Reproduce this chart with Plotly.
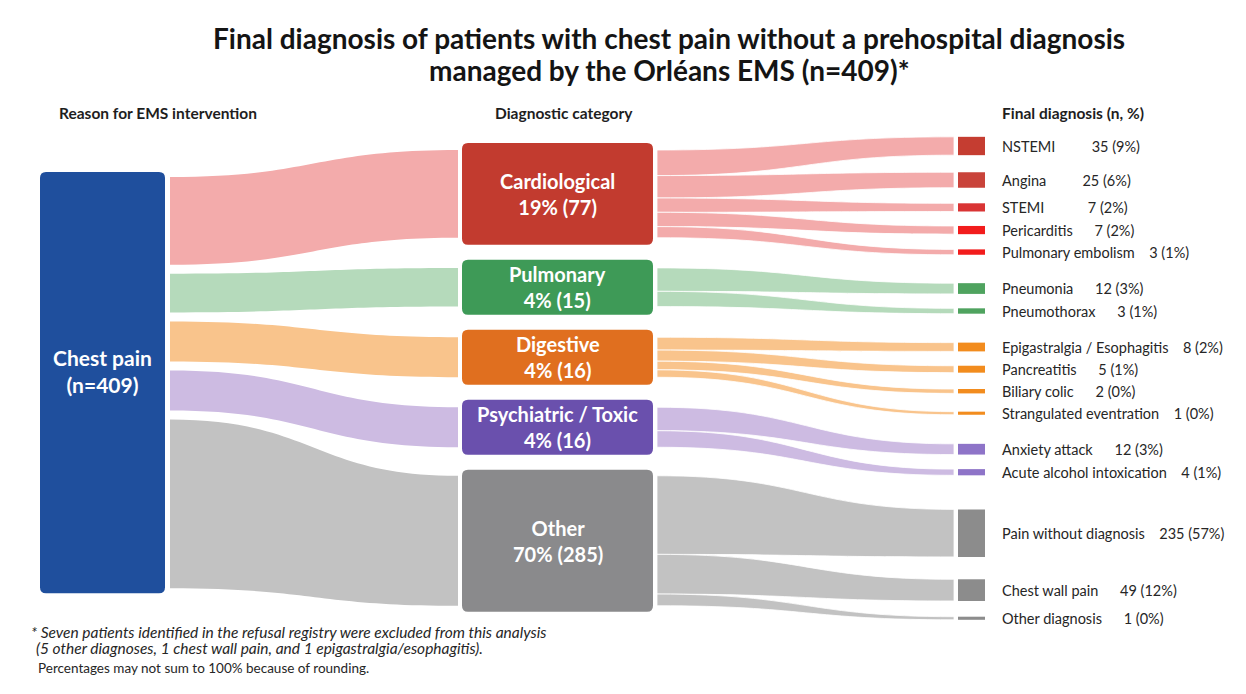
"""
Sankey-style flow of chest pain patients (Orléans EMS) drawn with Plotly shapes,
so that the boxes can carry their labels inside like the source figure.
"""
import numpy as np
import plotly.graph_objects as go

# ---- data ---------------------------------------------------------------
source_name = "Chest pain"

categories = ["Cardiological", "Pulmonary", "Digestive", "Psychiatric / Toxic", "Other"]

diagnoses = [
    "NSTEMI", "Angina", "STEMI", "Pericarditis", "Pulmonary embolism",
    "Pneumonia", "Pneumothorax",
    "Epigastralgia / Esophagitis", "Pancreatitis", "Biliary colic", "Strangulated eventration",
    "Anxiety attack", "Acute alcohol intoxication",
    "Pain without diagnosis", "Chest wall pain", "Other diagnosis",
]
diagnosis_category = [
    "Cardiological", "Cardiological", "Cardiological", "Cardiological", "Cardiological",
    "Pulmonary", "Pulmonary",
    "Digestive", "Digestive", "Digestive", "Digestive",
    "Psychiatric / Toxic", "Psychiatric / Toxic",
    "Other", "Other", "Other",
]
diagnosis_n = [35, 25, 7, 7, 3, 12, 3, 8, 5, 2, 1, 12, 4, 235, 49, 1]

# ---- styles -------------------------------------------------------------
source_color = "#1F4F9D"
cat_colors = ["#C23B2F", "#3E9A57", "#E06F1F", "#6A50AD", "#8A8A8C"]
band_colors = ["#F3ABAB", "#B5DABB", "#F9C48C", "#CDBBE2", "#C2C2C2"]
diag_colors = ["#C53D31", "#C9433A", "#D93434", "#F21C1C", "#F21C1C",
               "#4FA35F", "#4FA35F",
               "#F28C1E", "#F28C1E", "#F28C1E", "#F28C1E",
               "#8E74C8", "#8E74C8",
               "#8C8C8C", "#8C8C8C", "#8C8C8C"]
FONT = "Lato"
TEXT = "#262626"

W, H = 1246, 694
PAGE_MARGIN = 8  # body margin of the html page

# band widths use a square-root scale so the small groups stay readable
K_LEFT = 10.0
K_RIGHT = 3.1
SPLIT_FLOOR = 1.5

SRC_X0, SRC_X1, SRC_TOP = 40, 165, 172
L_BAND_X0, L_BAND_X1, L_GAP = 170, 458, 9
MID_X0, MID_X1, MID_TOP, MID_GAP = 462, 653, 143, 15
MID_MIN_H, MID_MAX_H, MID_PAD = 55, 142, 14
R_BAND_X0, R_BAND_X1 = 657, 954
FIN_X0, FIN_X1, FIN_FIRST = 958, 985, 146
FIN_MIN_STEP, FIN_SPREAD, FIN_PAD, FIN_GROUP_GAP = 22, 1.3, 12, 14
LABEL_X = 1000


def rounded_rect(x0, y0, x1, y1, r):
    return (f"M{x0 + r},{y0} L{x1 - r},{y0} Q{x1},{y0} {x1},{y0 + r} "
            f"L{x1},{y1 - r} Q{x1},{y1} {x1 - r},{y1} L{x0 + r},{y1} "
            f"Q{x0},{y1} {x0},{y1 - r} L{x0},{y0 + r} Q{x0},{y0} {x0 + r},{y0} Z")


def ribbon(x0, t0, b0, x1, t1, b1):
    xm = (x0 + x1) / 2
    return (f"M{x0},{t0} C{xm},{t0} {xm},{t1} {x1},{t1} "
            f"L{x1},{b1} C{xm},{b1} {xm},{b0} {x0},{b0} Z")


diag_n = np.array(diagnosis_n)
diag_cat = np.array(diagnosis_category)
cat_n = np.array([diag_n[diag_cat == c].sum() for c in categories])
total = cat_n.sum()

shapes = []
annotations = []

# ---- left bands + source node ---------------------------------------------
w_left = K_LEFT * np.sqrt(cat_n)
y = SRC_TOP + 5
left_spans = []
for w in w_left:
    left_spans.append((y, y + w))
    y += w + L_GAP
src_bottom = y - L_GAP + 5

shapes.append(dict(type="path", path=rounded_rect(SRC_X0, SRC_TOP, SRC_X1, src_bottom, 6),
                   fillcolor=source_color, line=dict(width=0), layer="above"))
annotations.append(dict(x=(SRC_X0 + SRC_X1) / 2, y=(SRC_TOP + src_bottom) / 2 - 12,
                        text=f"{source_name}<br>(n={total})", showarrow=False,
                        font=dict(family=FONT, size=21, color="white", weight="bold")))

# ---- middle boxes ------------------------------------------------------------
mid_h = np.clip(w_left + MID_PAD, MID_MIN_H, MID_MAX_H)
y = MID_TOP
mid_spans = []
for h in mid_h:
    mid_spans.append((y, y + h))
    y += h + MID_GAP

band_ends = []
for i, cat in enumerate(categories):
    t, b = mid_spans[i]
    centre = (t + b) / 2
    e = min(w_left[i], (b - t) - 12)
    band_ends.append((centre - e / 2, centre + e / 2))
    s0, s1 = left_spans[i]
    shapes.append(dict(type="path",
                       path=ribbon(L_BAND_X0, s0, s1, L_BAND_X1, centre - e / 2, centre + e / 2),
                       fillcolor=band_colors[i], line=dict(width=0), layer="below"))
    shapes.append(dict(type="path", path=rounded_rect(MID_X0, t, MID_X1, b, 6),
                       fillcolor=cat_colors[i], line=dict(width=0), layer="above"))
    pct = round(100 * cat_n[i] / total)
    annotations.append(dict(x=(MID_X0 + MID_X1) / 2, y=centre,
                            text=f"{cat}<br>{pct}% ({cat_n[i]})", showarrow=False,
                            font=dict(family=FONT, size=20, color="white", weight="bold")))

# ---- final diagnoses -----------------------------------------------------------
fin_h = K_RIGHT * np.sqrt(diag_n)
fin_c = []
for j in range(len(diagnoses)):
    if j == 0:
        fin_c.append(FIN_FIRST)
        continue
    step = max(FIN_MIN_STEP, FIN_SPREAD * (fin_h[j - 1] + fin_h[j]) / 2 + FIN_PAD)
    if diag_cat[j] != diag_cat[j - 1]:
        step += FIN_GROUP_GAP
    fin_c.append(fin_c[-1] + step)

for i, cat in enumerate(categories):
    idx = np.where(diag_cat == cat)[0]
    weights = np.sqrt(diag_n[idx]) + SPLIT_FLOOR
    t, b = band_ends[i]
    cuts = t + (b - t) * np.concatenate([[0], np.cumsum(weights)]) / weights.sum()
    for k, j in enumerate(idx):
        c, h = fin_c[j], fin_h[j]
        shapes.append(dict(type="path",
                           path=ribbon(R_BAND_X0, cuts[k], cuts[k + 1],
                                       R_BAND_X1, c - h / 2, c + h / 2),
                           fillcolor=band_colors[i], line=dict(width=0.8, color="white"),
                           layer="below"))
        shapes.append(dict(type="rect", x0=FIN_X0, x1=FIN_X1, y0=c - h / 2, y1=c + h / 2,
                           fillcolor=diag_colors[j], line=dict(width=0)))
        name = diagnoses[j]
        pct = round(100 * diag_n[j] / total)
        gap = "\u2002" * max(3 if len(name) <= 15 else 2, 11 - len(name))
        annotations.append(dict(x=LABEL_X, y=c, xanchor="left",
                                text=f"{name}{gap}{diag_n[j]} ({pct}%)", showarrow=False,
                                font=dict(family=FONT, size=14.5, color=TEXT)))

# ---- titles, headers, notes ----------------------------------------------------------
title_lines = ["Final diagnosis of patients with chest pain without a prehospital diagnosis",
               "managed by the Orléans EMS (n=409)*"]
for ty, line in zip([38, 70], title_lines):
    annotations.append(dict(x=669, y=ty, showarrow=False, text=line,
                            font=dict(family=FONT, size=28, color="#141414", weight="bold")))
for x, txt in [(57, "Reason for EMS intervention"), (493, "Diagnostic category"),
               (LABEL_X, "Final diagnosis (n, %)")]:
    annotations.append(dict(x=x, y=113, xanchor="left", text=txt, showarrow=False,
                            font=dict(family=FONT, size=15.5, color="#1E1E1E", weight="bold")))

annotations.append(dict(x=29, y=632, xanchor="left", showarrow=False,
                        text="<i>* Seven patients identified in the refusal registry were excluded from this analysis</i>",
                        font=dict(family=FONT, size=15.5, color=TEXT)))
annotations.append(dict(x=34, y=648, xanchor="left", showarrow=False,
                        text="<i>(5 other diagnoses, 1 chest wall pain, and 1 epigastralgia/esophagitis).</i>",
                        font=dict(family=FONT, size=15.5, color=TEXT)))
annotations.append(dict(x=36, y=668, xanchor="left", showarrow=False,
                        text="Percentages may not sum to 100% because of rounding.",
                        font=dict(family=FONT, size=13.5, color=TEXT)))

fig = go.Figure()
fig.update_layout(
    width=W - 2 * PAGE_MARGIN, height=H - 2 * PAGE_MARGIN,
    margin=dict(l=0, r=0, t=0, b=0),
    paper_bgcolor="white", plot_bgcolor="white",
    xaxis=dict(range=[PAGE_MARGIN, W - PAGE_MARGIN], visible=False, fixedrange=True),
    yaxis=dict(range=[H - PAGE_MARGIN, PAGE_MARGIN], visible=False, fixedrange=True),
    shapes=shapes,
    annotations=annotations,
    showlegend=False,
)

fig.write_html("out.html")
